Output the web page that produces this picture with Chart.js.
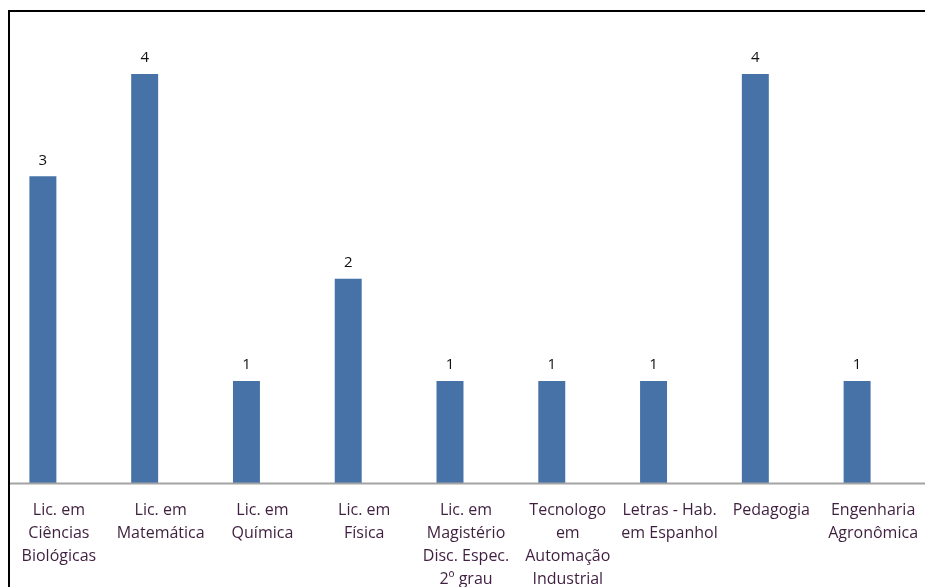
<!DOCTYPE html>
<html>
<head>
<meta charset="utf-8">
<script src="https://cdn.jsdelivr.net/npm/chart.js@4/dist/chart.umd.min.js"></script>
<style>
  html, body { margin: 0; padding: 0; background: #fff; overflow: hidden; }
  #frame {
    position: absolute; left: 8px; top: 10px;
    width: 1000px; height: 1000px;
    border-left: 2px solid #000; border-top: 2px solid #000;
    overflow: hidden; background: #fff;
  }
  #chart { position: absolute; left: -18px; top: -12px; }
</style>
</head>
<body>
<div id="frame">
  <canvas id="chart" width="940" height="587"></canvas>
</div>
<script>
const cursos = [
  ["Lic. em", "Ciências", "Biológicas"],
  ["Lic. em", "Matemática"],
  ["Lic. em", "Química"],
  ["Lic. em", "Física"],
  ["Lic. em", "Magistério", "Disc. Espec.", "2º grau"],
  ["Tecnologo", "em", "Automação", "Industrial"],
  ["Letras - Hab.", "em Espanhol"],
  ["Pedagogia"],
  ["Engenharia", "Agronômica"]
];
const quantidade = [3, 4, 1, 2, 1, 1, 1, 4, 1];

const FONT = "'Open Sans', 'Noto Sans', sans-serif";

// linha de base do eixo, de ponta a ponta
const baseLine = {
  id: "baseLine",
  afterDatasetsDraw(chart) {
    const { ctx } = chart;
    const y = chart.scales.y.getPixelForValue(0);
    ctx.save();
    ctx.strokeStyle = "#a3a3a3";
    ctx.lineWidth = 2;
    ctx.beginPath();
    ctx.moveTo(0, y);
    ctx.lineTo(chart.width, y);
    ctx.stroke();
    ctx.restore();
  }
};

// rótulos de valor acima das barras
const valueLabels = {
  id: "valueLabels",
  afterDatasetsDraw(chart) {
    const { ctx } = chart;
    const meta = chart.getDatasetMeta(0);
    ctx.save();
    ctx.font = "15px " + FONT;
    ctx.fillStyle = "#111";
    ctx.textAlign = "center";
    ctx.textBaseline = "middle";
    meta.data.forEach((bar, i) => {
      ctx.fillText(String(quantidade[i]), bar.x, bar.y - 16);
    });
    ctx.restore();
  }
};

new Chart(document.getElementById("chart"), {
  type: "bar",
  data: {
    labels: cursos,
    datasets: [{
      data: quantidade,
      backgroundColor: "#4672a8",
      borderWidth: 0,
      categoryPercentage: 1,
      barPercentage: 0.265
    }]
  },
  options: {
    responsive: false,
    animation: false,
    layout: { padding: { left: 0, right: 24, top: 22.8, bottom: 0 } },
    plugins: { legend: { display: false }, tooltip: { enabled: false } },
    scales: {
      x: {
        grid: { display: false },
        border: { display: false },
        ticks: {
          autoSkip: false,
          maxRotation: 0,
          minRotation: 0,
          padding: 7,
          labelOffset: 16,
          color: "#3f1f3f",
          font: { family: FONT, size: 16, lineHeight: "23px" }
        },
        afterFit(scale) { scale.height = 103.5; }
      },
      y: {
        display: false,
        min: 0,
        max: 4.5
      }
    }
  },
  plugins: [baseLine, valueLabels]
});
</script>
</body>
</html>
